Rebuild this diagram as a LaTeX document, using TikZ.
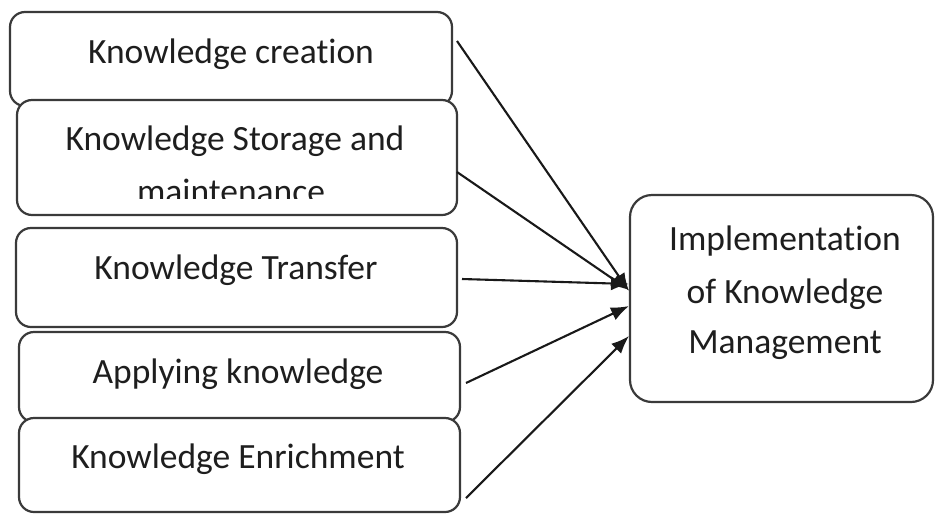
\documentclass[tikz,border=0pt]{standalone}
\usepackage{fontspec}
\setmainfont{Carlito}[Ligatures={NoCommon}]
\usetikzlibrary{arrows.meta}
\definecolor{boxgray}{HTML}{3A3A3A}
\definecolor{txt}{HTML}{1E1E1E}
\begin{document}
\begin{tikzpicture}[x=1pt,y=-1pt,
  box/.style={draw=boxgray, line width=2.2pt, fill=white, rounded corners=15pt, inner sep=0pt, outer sep=0pt},
  bigbox/.style={box, rounded corners=22pt},
  lbl/.style={font=\fontsize{35.5}{40}\selectfont, text=txt, anchor=base, inner sep=0pt},
  conn/.style={draw=black!90, line width=2.1pt, -{Latex[length=18pt,width=14pt]}}]
\useasboundingbox[fill=white] (0,0) rectangle (937,515);

% left column boxes
\node[box, minimum width=442pt, minimum height=94pt] (b1) at (231,59) {};
\node[lbl] (t1) at (231,63) {Knowledge creation};
\node[box, minimum width=440pt, minimum height=115pt] (b2) at (237,157.5) {};
\node[lbl] (t2a) at (235,150) {Knowledge Storage and};
\begin{scope}
  \clip (17,100) rectangle (457,198);
  \node[lbl] (t2b) at (231,203.5) {maintenance};
\end{scope}
\node[box, minimum width=441pt, minimum height=99pt] (b3) at (236.5,277.5) {};
\node[lbl] (t3) at (236,279) {Knowledge Transfer};
\node[box, minimum width=441pt, minimum height=90pt] (b4) at (239.5,377) {};
\node[lbl] (t4) at (238,383) {Applying knowledge};
\node[box, minimum width=441pt, minimum height=94pt] (b5) at (239.5,465) {};
\node[lbl] (t5) at (238,468) {Knowledge Enrichment};

% right box
\node[bigbox, minimum width=303pt, minimum height=207pt] (R) at (781.5,298.5) {};
\node[lbl] (r1) at (785,250) {Implementation};
\node[lbl] (r2) at (785,303) {of Knowledge};
\node[lbl] (r3) at (785,353) {Management};

% connector ends
\coordinate (s1) at (457,41);
\coordinate (s2) at (457,172);
\coordinate (s3) at (462,279);
\coordinate (s4) at (466,383);
\coordinate (s5) at (466,498);
\coordinate (e1) at (629,291);
\coordinate (e2) at (629,290);
\coordinate (e3) at (629,284);
\coordinate (e4) at (629,306);
\coordinate (e5) at (629,336);

\draw[conn] (s1) -- (e1);
\draw[conn] (s2) -- (e2);
\draw[conn] (s3) -- (e3);
\draw[conn] (s4) -- (e4);
\draw[conn] (s5) -- (e5);
\end{tikzpicture}
\end{document}
